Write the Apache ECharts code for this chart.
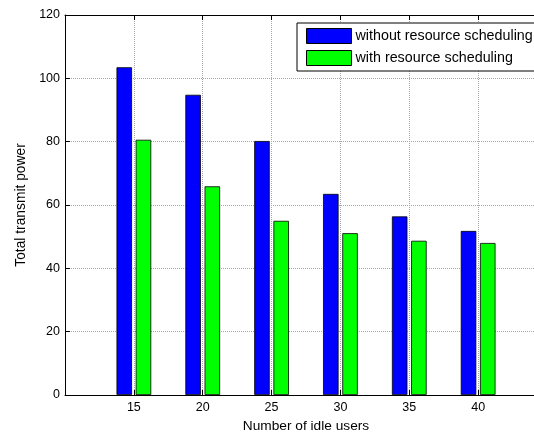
<!DOCTYPE html>
<html>
<head>
<meta charset="utf-8">
<script src="https://cdn.jsdelivr.net/npm/echarts@6/dist/echarts.min.js"></script>
<style>
html,body{margin:0;padding:0;background:#fff;}
#c{width:534px;height:434px;}
</style>
</head>
<body>
<div id="c"></div>
<script>
var categories = [15, 20, 25, 30, 35, 40];
var withoutScheduling = [103.5, 94.8, 80.2, 63.5, 56.4, 51.8];
var withScheduling = [80.6, 65.9, 55.0, 51.1, 48.7, 48.0];
var seriesNames = ['without resource scheduling', 'with resource scheduling'];
var xTitle = 'Number of idle users';
var yTitle = 'Total transmit power';

function pairs(vals) { return categories.map(function (c, i) { return [c, vals[i]]; }); }

var font = 'Liberation Sans, Arial, Helvetica, sans-serif';
var chart = echarts.init(document.getElementById('c'), null, {renderer: 'canvas'});
var gridStyle = {show: true, lineStyle: {color: '#a8a8a8', type: [1, 1], width: 1}};
var axisLineStyle = {show: true, onZero: false, lineStyle: {color: '#000', width: 1}};
var tickStyle = {show: true, inside: true, length: 5, lineStyle: {color: '#000', width: 1}};

chart.setOption({
  animation: false,
  backgroundColor: '#fff',
  textStyle: {fontFamily: font},
  grid: {left: 65, top: 15, width: 482, height: 380, containLabel: false, outerBoundsMode: 'none'},
  legend: {
    orient: 'vertical', left: 297, top: 23,
    padding: [5, 12, 5, 9],
    itemWidth: 45, itemHeight: 15, itemGap: 6,
    backgroundColor: '#fff', borderColor: '#000', borderWidth: 1, borderRadius: 0,
    icon: 'rect',
    itemStyle: {borderWidth: 1, borderColor: '#000'},
    textStyle: {fontSize: 14.3, color: '#000', fontFamily: font, padding: [0, 0, 0, -1]},
    data: seriesNames
  },
  xAxis: [{
    type: 'value', min: 10, max: 45, interval: 5, position: 'bottom',
    name: xTitle, nameLocation: 'middle', nameGap: 17,
    nameTextStyle: {fontSize: 13.7, color: '#000', fontFamily: font},
    axisLine: axisLineStyle, axisTick: tickStyle,
    axisLabel: {margin: 6, fontSize: 12.5, color: '#000', fontFamily: font,
      formatter: function (v) { return (v >= 15 && v <= 40) ? String(v) : ''; }},
    splitLine: gridStyle
  }, {
    type: 'value', min: 10, max: 45, interval: 5, position: 'top',
    axisLine: axisLineStyle, axisTick: tickStyle, axisLabel: {show: false}, splitLine: {show: false}
  }],
  yAxis: [{
    type: 'value', min: 0, max: 120, interval: 20, position: 'left',
    name: yTitle, nameLocation: 'middle', nameGap: 37, nameRotate: 90,
    nameTextStyle: {fontSize: 13.8, color: '#000', fontFamily: font},
    axisLine: axisLineStyle, axisTick: tickStyle,
    axisLabel: {margin: 5, fontSize: 12.5, color: '#000', fontFamily: font},
    splitLine: gridStyle
  }, {
    type: 'value', min: 0, max: 120, interval: 20, position: 'right',
    axisLine: axisLineStyle, axisTick: tickStyle, axisLabel: {show: false}, splitLine: {show: false}
  }],
  series: [{
    name: seriesNames[0], type: 'bar', xAxisIndex: 0, yAxisIndex: 0,
    barWidth: 15.5, barGap: '24%',
    itemStyle: {color: '#0000ff', borderColor: '#000', borderWidth: 0.8},
    data: pairs(withoutScheduling)
  }, {
    name: seriesNames[1], type: 'bar', xAxisIndex: 0, yAxisIndex: 0,
    barWidth: 15.5, barGap: '24%',
    itemStyle: {color: '#00ff00', borderColor: '#000', borderWidth: 0.8},
    data: pairs(withScheduling)
  }]
});
</script>
</body>
</html>
